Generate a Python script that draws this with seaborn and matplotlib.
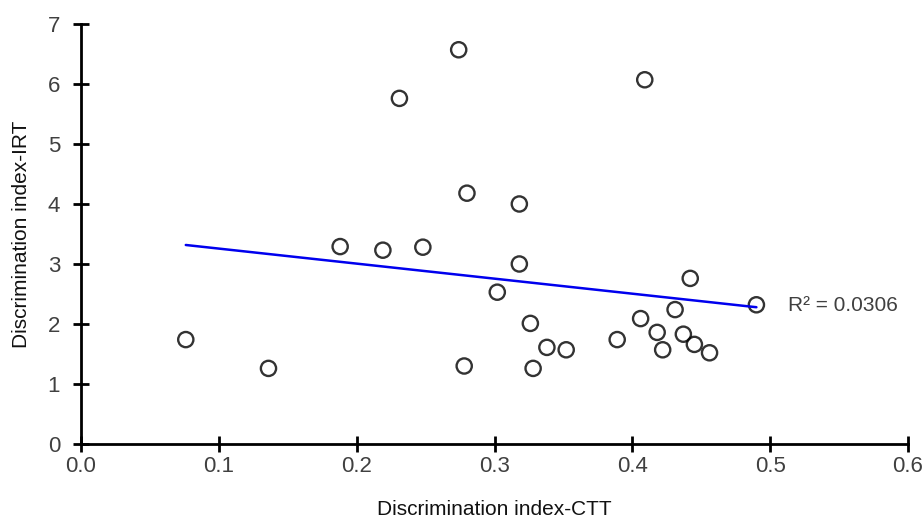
import numpy as np
import seaborn as sns
import matplotlib.pyplot as plt
from matplotlib import font_manager

# Discrimination indices
ctt = [0.076, 0.136, 0.188, 0.219, 0.248, 0.231, 0.274, 0.280, 0.278,
       0.409, 0.318, 0.318, 0.302, 0.326, 0.338, 0.352, 0.328, 0.389,
       0.406, 0.418, 0.422, 0.431, 0.442, 0.437, 0.445, 0.456, 0.490]
irt = [1.74, 1.26, 3.29, 3.23, 3.28, 5.76, 6.57, 4.18, 1.30,
       6.07, 4.00, 3.00, 2.53, 2.01, 1.61, 1.57, 1.26, 1.74,
       2.09, 1.86, 1.57, 2.24, 2.76, 1.83, 1.66, 1.52, 2.32]
r2_label = "R² = 0.0306"

sns.set_style("white")
names = {f.name for f in font_manager.fontManager.ttflist}
fam = "Liberation Sans Narrow" if "Liberation Sans Narrow" in names else "Liberation Sans"
plt.rcParams['font.family'] = [fam, 'DejaVu Sans']

fig = plt.figure(figsize=(9.24, 5.21), dpi=100)
ax = fig.add_axes([0.0877, 0.1478, 0.8950, 0.8062])

sns.regplot(x=ctt, y=irt, ax=ax, ci=None, truncate=True,
            scatter_kws=dict(s=120, facecolors='none', edgecolors='black', linewidths=1.7),
            line_kws=dict(color='#0000ee', linewidth=1.8))

ax.set_xlim(0, 0.6)
ax.set_ylim(0, 7)
ax.set_xticks(np.arange(0, 0.61, 0.1))
ax.set_xticklabels([f"{v:.1f}" for v in np.arange(0, 0.61, 0.1)])
ax.set_yticks(range(0, 8))
for s in ['top', 'right']:
    ax.spines[s].set_visible(False)
for s in ['left', 'bottom']:
    ax.spines[s].set_linewidth(2)
    ax.spines[s].set_color('black')
ax.tick_params(bottom=True, left=True, direction='inout', length=12, width=2,
               color='black', labelsize=16, labelcolor='#404040')
ax.tick_params(axis='x', pad=3)
ax.tick_params(axis='y', pad=9)
ax.set_xlabel('Discrimination index-CTT', fontsize=15, color='#111111', labelpad=16)
ax.set_ylabel('Discrimination index-IRT', fontsize=15, color='#111111', labelpad=12)

ax.text(0.513, 2.30, r2_label, fontsize=15, color='#404040', va='center', ha='left')

fig.savefig('out.png', dpi=100)
